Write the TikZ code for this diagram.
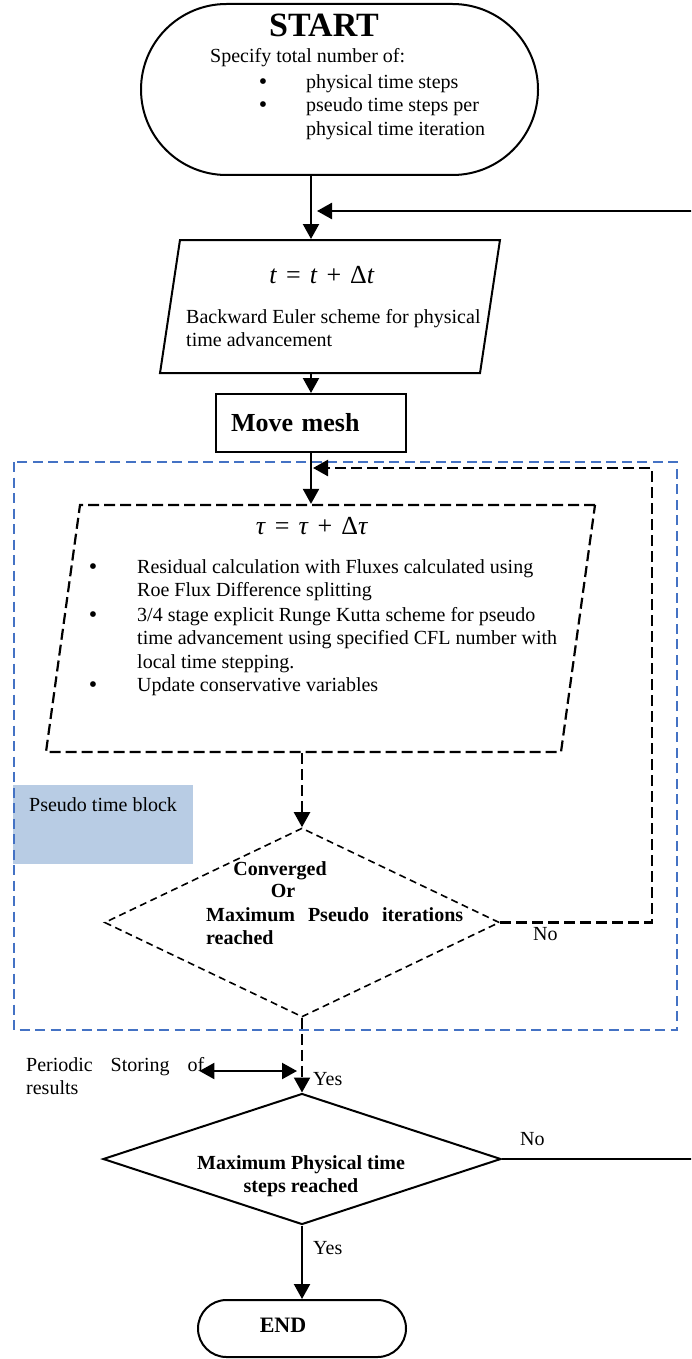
\documentclass[tikz,border=0pt]{standalone}
\usepackage{fontspec}
\setmainfont{Liberation Serif}
\usepackage{xcolor}
\usetikzlibrary{arrows.meta, shapes.geometric, shapes.misc, positioning, calc}
\definecolor{bluecol}{RGB}{68, 114, 196}
\definecolor{tagcol}{RGB}{184, 204, 228}

\begin{document}
\begin{tikzpicture}[
    x=1pt, y=-1pt,
    txt/.style={inner sep=0pt, font=\fontsize{20}{23}\selectfont},
    btxt/.style={inner sep=0pt, font=\fontsize{20}{23}\selectfont\bfseries},
    dot/.style={inner sep=0pt, font=\fontsize{24}{26}\selectfont},
    eqtxt/.style={inner sep=0pt, font=\fontsize{26}{30}\selectfont},
    term/.style={rounded rectangle, draw, line width=2pt, inner sep=0pt},
    para/.style={rectangle, draw, line width=2pt, inner sep=0pt},
    box/.style={rectangle, draw, line width=2pt, minimum width=190pt, minimum height=58pt,
                text width=160pt, inner xsep=15pt, align=left, font=\fontsize{26}{30}\selectfont\bfseries},
    dec/.style={diamond, draw, line width=2pt, inner sep=0pt},
    arr/.style={draw, line width=2.2pt, -{Triangle[length=15pt, width=16pt]}},
    dasharr/.style={arr, dash pattern=on 11pt off 5pt},
    dblarr/.style={draw, line width=2.2pt, {Triangle[length=15pt, width=16pt]}-{Triangle[length=15pt, width=16pt]}}
  ]
  \useasboundingbox (0,0) rectangle (691,1359);
  \clip (0,0) rectangle (691,1359);

  % Pseudo time block
  \node[fill=tagcol, minimum width=180pt, minimum height=79pt, anchor=north west, inner sep=0pt] (tag) at (13,785) {};
  \node[txt, anchor=base west] (tagtxt) at (29,811) {Pseudo time block};
  \draw[bluecol, line width=1.5pt, dash pattern=on 10pt off 5.5pt] (14,462) rectangle (677,1030);

  % Nodes
  \node[term, minimum width=397pt, minimum height=171pt] (start) at (339.5,89.5) {};
  \node[para, xslant=0.15, minimum width=320pt, minimum height=133pt] (phys) at (330,306.5) {};
  \node[box] (mesh) at (311,423) {Move mesh};
  \node[para, line width=2.2pt, dash pattern=on 11pt off 5pt, xslant=0.1377, minimum width=515pt, minimum height=247pt] (pseudo) at (320.5,628.5) {};
  \node[dec, line width=1.6pt, dash pattern=on 7pt off 4.5pt, minimum width=395pt, minimum height=189pt] (conv) at (302,922.5) {};
  \node[dec, minimum width=398pt, minimum height=131pt] (maxt) at (302,1159) {};
  \node[term, minimum width=208pt, minimum height=57pt] (stop) at (302,1328.5) {};

  % Start text
  \node[inner sep=0pt, font=\fontsize{34}{40}\selectfont\bfseries, anchor=base] (title) at (324,37) {START};
  \node[txt, anchor=base west] (spec) at (210,63) {Specify total number of:};
  \node[dot, anchor=base] (dot1) at (263,90) {\textbullet};
  \node[txt, anchor=base west] (item1) at (306,89) {physical time steps};
  \node[dot, anchor=base] (dot2) at (263,113) {\textbullet};
  \node[txt, anchor=base west] (item2) at (306,112) {pseudo time steps per};
  \node[txt, anchor=base west] (item2b) at (306,136) {physical time iteration};

  % Physical time text
  \node[eqtxt, anchor=base] (eq1) at (322,283)
        {\textit{t}\hspace{9pt}=\hspace{9pt}\textit{t}\hspace{9pt}+\hspace{9pt}Δ\textit{t}};
  \node[txt, anchor=base west] (be1) at (186,323) {Backward Euler scheme for physical};
  \node[txt, anchor=base west] (be2) at (186,346) {time advancement};

  % Pseudo time text
  \node[eqtxt, anchor=base] (eq2) at (312,534)
        {\textit{τ}\hspace{9pt}=\hspace{9pt}\textit{τ}\hspace{9pt}+\hspace{9pt}Δ\textit{τ}};
  \node[dot, anchor=base] (dot3) at (93,574) {\textbullet};
  \node[txt, anchor=base west] (res1) at (137,573) {Residual calculation with Fluxes calculated using};
  \node[txt, anchor=base west] (res2) at (137,596) {Roe Flux Difference splitting};
  \node[dot, anchor=base] (dot4) at (93,622) {\textbullet};
  \node[txt, anchor=base west] (rk1) at (137,621) {3/4 stage explicit Runge Kutta scheme for pseudo};
  \node[txt, anchor=base west] (rk2) at (137,644) {time advancement using specified CFL number with};
  \node[txt, anchor=base west] (rk3) at (137,668) {local time stepping.};
  \node[dot, anchor=base] (dot5) at (93,692) {\textbullet};
  \node[txt, anchor=base west] (upd) at (137,691) {Update conservative variables};

  % Decision text
  \node[btxt, anchor=base] (cv1) at (280,875) {Converged};
  \node[btxt, anchor=base] (cv2) at (283,897) {Or};
  \node[btxt, anchor=base west] (cv3) at (206,921) {\makebox[257pt][s]{Maximum Pseudo iterations}};
  \node[btxt, anchor=base west] (cv4) at (206,944) {reached};
  \node[btxt, anchor=base] (mp1) at (301,1169) {Maximum Physical time};
  \node[btxt, anchor=base] (mp2) at (301,1192) {steps reached};
  \node[inner sep=0pt, font=\fontsize{22}{26}\selectfont\bfseries, anchor=base] (endtxt) at (283,1332) {END};

  % Side labels
  \node[txt, anchor=base west] (store) at (26,1071) {\makebox[178pt][s]{Periodic Storing of}};
  \node[txt, anchor=base west] (store2) at (26,1094) {results};
  \node[txt, anchor=base west] (no1) at (533,940) {No};
  \node[txt, anchor=base west] (no2) at (520,1145) {No};
  \node[txt, anchor=base west] (yes1) at (313,1085) {Yes};
  \node[txt, anchor=base west] (yes2) at (313,1254) {Yes};

  % Loop corners
  \coordinate (backA) at (652,468);
  \coordinate (joinA) at (313,468);
  \coordinate (backB) at (700,211);
  \coordinate (joinB) at (317,211);
  \coordinate (tap) at (297,1071);

  % Arrows
  \draw[arr] (start.south -| mesh.north) -- (phys.north -| mesh.north);
  \draw[arr] (phys.south -| mesh.north) -- (mesh.north);
  \draw[arr] (mesh.south) -- (pseudo.north -| mesh.south);
  \draw[dasharr] (pseudo.south -| conv.north) -- (conv.north);
  \draw[dasharr] (conv.south) -- (maxt.north);
  \draw[arr] (maxt.south) -- (stop.north);
  \draw[dasharr, line width=2.5pt] (conv.east) -| (backA) -- (joinA);
  \draw[arr, line width=2.5pt] (maxt.east) -| (backB) -- (joinB);
  \draw[dblarr] (tap) -- ([xshift=-5pt]tap -| store.east);
\end{tikzpicture}
\end{document}
